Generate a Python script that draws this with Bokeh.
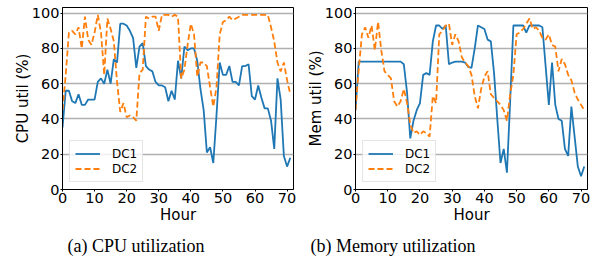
from bokeh.plotting import figure
from bokeh.layouts import row
from bokeh.models import Legend, LegendItem, FixedTicker, Title
from bokeh.embed import file_html
from bokeh.resources import INLINE

hours = list(range(72))

cpu_dc1 = [35, 56, 56, 50, 49, 54, 48, 48, 51, 51, 51, 61, 63, 60, 68, 60, 74, 72,
           94, 94, 93, 90, 86, 69, 81, 83, 70, 68, 67, 61, 59, 59, 58, 50, 56, 51,
           73, 63, 81, 79, 80, 80, 73, 57, 45, 21, 24, 15, 42, 72, 65, 65, 70, 61,
           61, 59, 70, 70, 71, 53, 51, 59, 52, 46, 46, 39, 23, 63, 51, 19, 13, 18]
cpu_dc2 = [45, 65, 89, 90, 88, 92, 80, 98, 85, 82, 89, 99, 89, 65, 97, 91, 84, 61,
           44, 49, 41, 42, 41, 39, 66, 68, 98, 97, 98, 98, 90, 99, 99, 99, 98, 99,
           98, 63, 68, 82, 94, 88, 64, 72, 72, 70, 58, 47, 58, 88, 95, 96, 98, 96,
           97, 98, 99, 99, 99, 99, 99, 99, 99, 99, 99, 92, 84, 72, 67, 72, 62, 54]
mem_dc1 = [45, 72.5, 72.5, 72.5, 72.5, 72.5, 72.5, 72.5, 72.5, 72.5, 72.5, 72.5, 72.5, 72.5, 72.5, 71, 55, 29,
           39, 45, 49, 65, 66, 65, 84, 93, 93, 91, 93, 71, 72, 72.5, 72.5, 72.5, 72, 69.5,
           69, 80, 93, 92, 91, 85, 84, 66, 40, 15, 23, 9.5, 50, 93, 93, 93, 93, 89,
           93, 93, 93, 93, 92, 70, 48, 72, 48, 40, 39, 23, 19, 47, 30, 13, 7.5, 13]
mem_dc2 = [45, 68, 88, 92, 86, 93, 79, 95, 79, 67, 65, 63, 50, 47, 50, 57, 49, 37,
           32, 33, 31, 33, 32, 30, 53, 49, 88, 90, 93, 94, 82, 88, 84, 75, 72, 70,
           65, 53, 46, 57, 64, 67, 54, 52, 50, 48, 45, 39, 54, 65, 88, 89, 91, 94,
           97, 91, 92, 90, 86, 85, 88, 82, 81, 67, 74, 71, 65, 62, 55, 51, 48, 45]

x_ticks = [0, 10, 20, 30, 40, 50, 60, 70]
y_ticks = [0, 20, 40, 60, 80, 100]
series_names = ["DC1", "DC2"]
x_label = "Hour"
panels = [
    ("CPU util (%)", "(a) CPU utilization", cpu_dc1, cpu_dc2),
    ("Mem util (%)", "(b) Memory utilization", mem_dc1, mem_dc2),
]

BLUE = "#1f77b4"
ORANGE = "#ff7f0e"
SANS = "DejaVu Sans"
SERIF = "Liberation Serif"


def make_panel(ylab, caption, d1, d2, left_border, right_border, width, cap_offset):
    p = figure(width=width, height=262, x_range=(0, 72), y_range=(0, 103.2),
               output_backend="svg", toolbar_location=None,
               min_border_left=left_border, min_border_right=right_border,
               min_border_top=7, min_border_bottom=71)
    p.background_fill_color = "white"
    p.border_fill_color = "white"
    p.outline_line_color = "black"
    p.outline_line_width = 1
    p.xgrid.visible = False
    p.ygrid.grid_line_color = "#b0b0b0"
    p.ygrid.grid_line_width = 1.3
    p.xaxis.ticker = FixedTicker(ticks=x_ticks)
    p.yaxis.ticker = FixedTicker(ticks=y_ticks)
    p.xaxis.minor_tick_line_color = None
    p.yaxis.minor_tick_line_color = None
    for ax in (p.xaxis[0], p.yaxis[0]):
        ax.major_tick_out = 2
        ax.major_tick_in = 0
        ax.major_label_standoff = 1
        ax.axis_line_color = "black"
        ax.major_tick_line_color = "black"
        ax.major_label_text_font = SANS
        ax.major_label_text_font_size = "14.5px"
        ax.major_label_text_color = "black"
        ax.axis_label_text_font = SANS
        ax.axis_label_text_font_size = "15px"
        ax.axis_label_text_font_style = "normal"
        ax.axis_label_text_color = "black"
    p.xaxis.axis_label = x_label
    p.yaxis.axis_label = ylab
    p.xaxis.axis_label_standoff = 0
    p.yaxis.axis_label_standoff = -3

    r1 = p.line(hours, d1, line_color=BLUE, line_width=1.8)
    r2 = p.line(hours, d2, line_color=ORANGE, line_width=1.8, line_dash="6 3")

    leg = Legend(items=[LegendItem(label=series_names[0], renderers=[r1]),
                        LegendItem(label=series_names[1], renderers=[r2])],
                 location="bottom_left", margin=7, padding=5, spacing=0,
                 label_height=15, glyph_height=15, glyph_width=25,
                 label_standoff=12, label_text_font=SANS,
                 label_text_font_size="12px", label_text_color="black",
                 border_line_color="#cccccc", border_line_width=1,
                 background_fill_alpha=0.8)
    p.add_layout(leg)

    cap = Title(text=caption, align="left", offset=cap_offset, standoff=14,
                text_font=SERIF, text_font_size="18px", text_font_style="normal",
                text_color="black")
    p.add_layout(cap, "below")
    return p


p1 = make_panel(panels[0][0], panels[0][1], panels[0][2], panels[0][3], 62, 7, 300, 5)
p2 = make_panel(panels[1][0], panels[1][1], panels[1][2], panels[1][3], 55, 8, 295, -45)

layout = row(p1, p2, spacing=0)
open("out.html", "w").write(file_html(layout, INLINE))
